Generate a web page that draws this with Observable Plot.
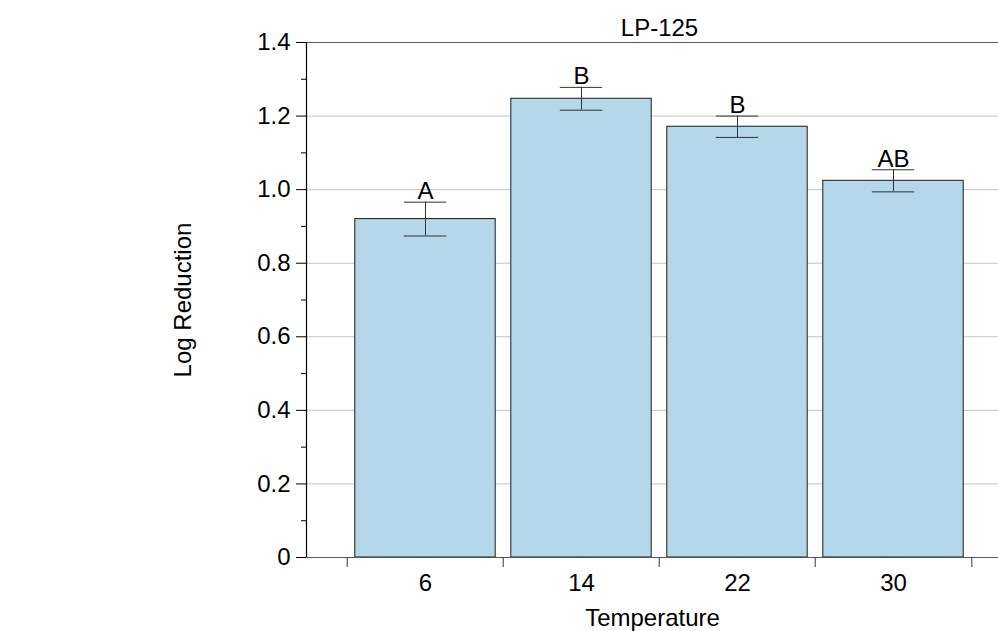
<!DOCTYPE html>
<html>
<head>
<meta charset="utf-8">
<script src="https://cdn.jsdelivr.net/npm/d3@7"></script>
<script src="https://cdn.jsdelivr.net/npm/@observablehq/plot@0.6"></script>
<style>
  html, body { margin: 0; padding: 0; background: #fff; }
  #wrap { position: relative; width: 998px; height: 631px; font-family: "Liberation Sans", Arial, sans-serif; }
  #panel { position: absolute; left: 9px; top: 27px; font-size: 35px; color: #000; }
</style>
</head>
<body>
<div id="wrap"><div id="panel">B</div></div>
<script>
// ---- data ----
const temperatures = ["6", "14", "22", "30"];
const logReduction = [0.92, 1.247, 1.171, 1.024];
const stdError = [0.046, 0.031, 0.029, 0.030];
const groupLetters = ["A", "B", "B", "AB"];
const yMajorTicks = [0, 0.2, 0.4, 0.6, 0.8, 1.0, 1.2, 1.4];
const yMinorTicks = [0.1, 0.3, 0.5, 0.7, 0.9, 1.1, 1.3];
const gridValues = [0.2, 0.4, 0.6, 0.8, 1.0, 1.2];
const title = "LP-125";

const rows = temperatures.map((t, i) => ({
  t, v: logReduction[i], lo: logReduction[i] - stdError[i], hi: logReduction[i] + stdError[i], letter: groupLetters[i]
}));

const W = 998, H = 631;
const mL = 306, mT = 42, mB = 74;
const xRange = [345.7, 972.3];
const bw = (xRange[1] - xRange[0]) / temperatures.length;
const capW = 43;
const barInset = 7.8;
const font = "Liberation Sans, Arial, sans-serif";
const fs = 24;

const chart = Plot.plot({
  width: W, height: H,
  marginLeft: mL, marginRight: 0, marginTop: mT, marginBottom: mB,
  style: { fontFamily: font, fontSize: fs + "px", color: "#000", background: "#fff" },
  x: { type: "band", domain: temperatures, range: xRange, padding: 0 },
  y: { domain: [0, 1.4], range: [H - mB, mT] },
  marks: [
    Plot.ruleY(gridValues, { stroke: "#c4c4c4", strokeWidth: 1 }),
    Plot.barY(rows, { x: "t", y: "v", fill: "#b4d7e9", stroke: "#1a1a1a", strokeWidth: 1, insetLeft: barInset, insetRight: barInset }),
    Plot.ruleX(rows, { x: "t", y1: "lo", y2: "hi", stroke: "#333", strokeWidth: 1 }),
    Plot.tickY(rows, { x: "t", y: "lo", stroke: "#333", strokeWidth: 1, insetLeft: (bw - capW) / 2, insetRight: (bw - capW) / 2 }),
    Plot.tickY(rows, { x: "t", y: "hi", stroke: "#333", strokeWidth: 1, insetLeft: (bw - capW) / 2, insetRight: (bw - capW) / 2 }),
    Plot.text(rows, { x: "t", y: "hi", text: "letter", lineAnchor: "bottom", dy: -3, fontSize: fs, fill: "#000" }),
    Plot.ruleY([0], { stroke: "#555", strokeWidth: 1.2 }),
    Plot.ruleY([1.4], { stroke: "#555", strokeWidth: 1.2 }),
    Plot.axisY({ ticks: yMajorTicks, tickSize: 10, tickPadding: 6, tickFormat: d => d === 0 ? "0" : d.toFixed(1),
      stroke: "#000", fill: "#000", fontSize: fs,
      label: "Log Reduction", labelAnchor: "center", labelArrow: "none", labelOffset: 133 }),
    Plot.axisY({ ticks: yMinorTicks, tickSize: 5, text: null, label: null, stroke: "#000" }),
    Plot.axisX({ tickSize: 0, tickPadding: 16, fontSize: fs, fill: "#000",
      label: "Temperature", labelAnchor: "center", labelArrow: "none", labelOffset: 68 }),
    Plot.axisX({ tickSize: 10, text: null, label: null, dx: -bw / 2, stroke: "#333" }),
    Plot.axisX([temperatures[temperatures.length - 1]], { tickSize: 10, text: null, label: null, dx: bw / 2, stroke: "#333" }),
    Plot.text([title], { frameAnchor: "top", lineAnchor: "bottom", dy: -7, dx: 7, fontSize: fs, fill: "#000" })
  ]
});

// vertical left axis line derived from the y scale
const ys = chart.scale("y");
d3.select(chart).append("line")
  .attr("x1", mL + 0.5).attr("x2", mL + 0.5)
  .attr("y1", ys.apply(0)).attr("y2", ys.apply(1.4))
  .attr("stroke", "#000").attr("stroke-width", 1.2);

document.getElementById("wrap").appendChild(chart);
chart.style.position = "absolute";
chart.style.left = "0px";
chart.style.top = "0px";
</script>
</body>
</html>
